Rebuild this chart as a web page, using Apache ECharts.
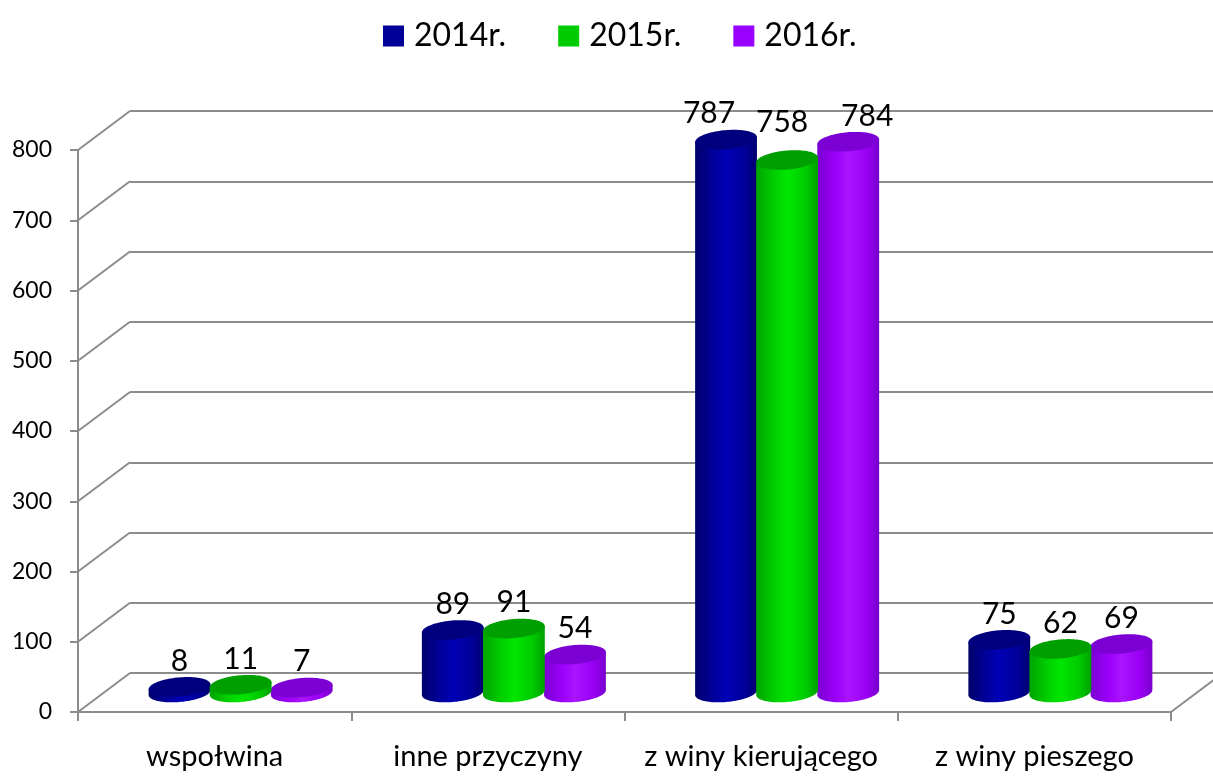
<!DOCTYPE html>
<html>
<head>
<meta charset="utf-8">
<script src="https://cdn.jsdelivr.net/npm/echarts@6/dist/echarts.min.js"></script>
<style>
  html, body { margin: 0; padding: 0; background: #fff; }
  #chart { width: 1213px; height: 780px; }
</style>
</head>
<body>
<div id="chart"></div>
<script>
// Road accident causes by year
const categories = ['wspołwina', 'inne przyczyny', 'z winy kierującego', 'z winy pieszego'];
const seriesNames = ['2014r.', '2015r.', '2016r.'];
const values2014 = [8, 89, 787, 75];
const values2015 = [11, 91, 758, 62];
const values2016 = [7, 54, 784, 69];
const yTicks = [0, 100, 200, 300, 400, 500, 600, 700, 800];

const FONT = 'Lato, "Open Sans", sans-serif';
const LINE = '#8c8c8c';
// Offset of the back wall relative to the front plane (pseudo 3D depth)
const DEPTH_X = 52, DEPTH_Y = 39;
const FRONT = { left: 78, right: 42, top: 150, bottom: 68 };

const palettes = [
  { base: '#000099', side: ['#00006a', '#00009c', '#0000b6', '#00009a', '#000070'], top: '#00007e' },
  { base: '#00cc00', side: ['#00a400', '#00d000', '#00e600', '#00cc00', '#00a000'], top: '#009f00' },
  { base: '#9900ff', side: ['#7a00d2', '#9c00fa', '#aa14ff', '#9a00f4', '#7800cc'], top: '#7c00d4' }
];

// Label nudges (pixels) keeping the crowded tall-bar labels apart: key = "series:category"
const labelNudge = { '0:2': [-17, 0], '1:2': [-5, -12], '2:2': [19, 0] };

function ellipsePoint(cx, cy, a, b, th, t) {
  return [
    cx + a * Math.cos(t) * Math.cos(th) - b * Math.sin(t) * Math.sin(th),
    cy + a * Math.cos(t) * Math.sin(th) + b * Math.sin(t) * Math.cos(th)
  ];
}

function cylinderSeries(idx, values) {
  const pal = palettes[idx];
  return {
    type: 'custom',
    name: seriesNames[idx],
    coordinateSystem: 'cartesian2d',
    xAxisIndex: 0, yAxisIndex: 0,
    clip: false,
    z: idx === 1 ? 4 : 3,
    itemStyle: { color: pal.base },
    data: values.map((v, i) => [i, v]),
    encode: { x: 0, y: 1 },
    renderItem(params, api) {
      const ci = api.value(0), v = api.value(1);
      const top = api.coord([ci, v]);
      const base = api.coord([ci, 0]);
      const band = api.size([1, 0])[0];
      const w = band * 0.227;
      const step = w * 0.985;
      const cx = top[0] + (idx - 1) * step + DEPTH_X / 2;
      const yTop = top[1] - DEPTH_Y / 2;
      const yBot = base[1] - DEPTH_Y / 2;
      const a = w / 2, b = 9.5, th = -5 * Math.PI / 180;
      const tR = Math.atan(-(b * Math.sin(th)) / (a * Math.cos(th)));
      const n = 48;
      // side surface: chord of the top face, lower half of the bottom face
      const body = [ellipsePoint(cx, yTop, a, b, th, tR)];
      for (let i = 0; i <= n; i++) body.push(ellipsePoint(cx, yBot, a, b, th, tR + Math.PI * i / n));
      body.push(ellipsePoint(cx, yTop, a, b, th, tR + Math.PI));
      const cap = [];
      for (let i = 0; i < n * 2; i++) cap.push(ellipsePoint(cx, yTop, a, b, th, Math.PI * i / n));
      const capTop = Math.min.apply(null, cap.map(p => p[1]));
      const nudge = labelNudge[idx + ':' + ci] || [0, 0];
      return {
        type: 'group',
        children: [
          {
            type: 'polygon',
            shape: { points: body },
            style: {
              fill: new echarts.graphic.LinearGradient(0, 0, 1, 0, [
                { offset: 0, color: pal.side[0] },
                { offset: 0.3, color: pal.side[1] },
                { offset: 0.5, color: pal.side[2] },
                { offset: 0.8, color: pal.side[3] },
                { offset: 1, color: pal.side[4] }
              ])
            }
          },
          { type: 'polygon', shape: { points: cap }, style: { fill: pal.top } },
          {
            type: 'text',
            style: {
              x: cx + nudge[0], y: capTop - 1 + nudge[1],
              text: String(v),
              font: '30px ' + FONT,
              fill: '#000',
              align: 'center', verticalAlign: 'bottom',
              textAlign: 'center', textVerticalAlign: 'bottom'
            }
          }
        ]
      };
    }
  };
}

const chart = echarts.init(document.getElementById('chart'), null, { renderer: 'canvas' });

chart.setOption({
  backgroundColor: '#fff',
  animation: false,
  legend: {
    data: seriesNames,
    left: 378, top: 15,
    icon: 'rect',
    itemWidth: 21, itemHeight: 21, itemGap: 52,
    textStyle: { fontFamily: FONT, fontSize: 32, color: '#000', padding: [0, 0, 0, 5] }
  },
  grid: [
    { left: FRONT.left, right: FRONT.right, top: FRONT.top, bottom: FRONT.bottom },
    { left: FRONT.left + DEPTH_X, right: FRONT.right - DEPTH_X, top: FRONT.top - DEPTH_Y, bottom: FRONT.bottom + DEPTH_Y }
  ],
  xAxis: [
    {
      type: 'category', gridIndex: 0, data: categories, boundaryGap: true,
      axisLine: { lineStyle: { color: LINE, width: 2 } },
      axisTick: { show: true, length: 9, interval: 0, alignWithLabel: false, lineStyle: { color: LINE, width: 2 } },
      axisLabel: { fontFamily: FONT, fontSize: 29, color: '#000', margin: 30, interval: 0 },
      splitLine: { show: false }
    },
    {
      type: 'category', gridIndex: 1, data: categories, show: false
    }
  ],
  yAxis: [
    {
      type: 'value', gridIndex: 0, min: 0, max: 800, interval: 100,
      axisLine: { show: true, lineStyle: { color: LINE, width: 2 } },
      axisTick: { show: true, length: 8, lineStyle: { color: LINE, width: 2 } },
      axisLabel: { fontFamily: FONT, fontSize: 23, color: '#000', margin: 26,
        customValues: yTicks },
      splitLine: { show: false }
    },
    {
      type: 'value', gridIndex: 1, min: 0, max: 800, interval: 100,
      axisLine: { show: false }, axisTick: { show: false }, axisLabel: { show: false },
      splitLine: { show: true, lineStyle: { color: LINE, width: 2 } }
    }
  ],
  series: [
    {
      // receding lines joining the front axis to the back wall
      type: 'custom',
      coordinateSystem: 'cartesian2d',
      xAxisIndex: 0, yAxisIndex: 0,
      silent: true, clip: false, z: 1,
      data: yTicks.map(t => [0, t]),
      encode: { x: 0, y: 1 },
      renderItem(params, api) {
        const cs = params.coordSys;
        const val = api.value(1);
        const y = api.coord([0, val])[1];
        const style = { stroke: LINE, lineWidth: 2 };
        const children = [
          { type: 'line', shape: { x1: cs.x, y1: y, x2: cs.x + DEPTH_X, y2: y - DEPTH_Y }, style }
        ];
        if (val === 0) {
          children.push({ type: 'line', shape: { x1: cs.x + cs.width, y1: y, x2: cs.x + cs.width + DEPTH_X, y2: y - DEPTH_Y }, style });
        }
        return { type: 'group', children };
      }
    },
    cylinderSeries(0, values2014),
    cylinderSeries(1, values2015),
    cylinderSeries(2, values2016)
  ]
});
</script>
</body>
</html>
